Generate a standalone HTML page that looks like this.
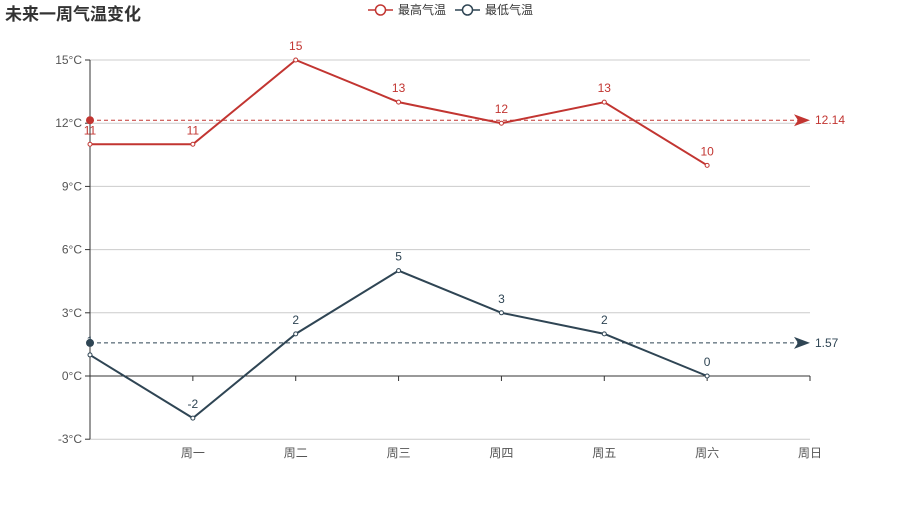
<!DOCTYPE html>
<html><head><meta charset="utf-8"><style>
body{margin:0;background:#fff;}
svg text{font-family:"Liberation Sans","Noto Sans CJK SC",sans-serif;}
</style></head><body>
<svg id="chart" width="900" height="500"></svg>
<script>
const categories=['周一','周二','周三','周四','周五','周六','周日'];
const maxTemps=[11,11,15,13,12,13,10];
const minTemps=[1,-2,2,5,3,2,0];
const yTicks=[-3,0,3,6,9,12,15];
const NS='http://www.w3.org/2000/svg';
const svg=document.getElementById('chart');
const X0=90,X1=810,Y15=60,Y0=376;
const step=(X1-X0)/7;
function xs(i){return X0+i*step;}
function ys(v){return Y0-(v)*(Y0-Y15)/15;}
function el(t,a,p){const e=document.createElementNS(NS,t);for(const k in a)e.setAttribute(k,a[k]);(p||svg).appendChild(e);return e;}
let t=el('text',{x:5,y:20,'font-size':17,'font-weight':'bold',fill:'#333'});t.textContent='未来一周气温变化';


yTicks.forEach(v=>{
 const y=ys(v);
 const g=el('line',{x1:X0,x2:X1,y1:y,y2:y,stroke:v===0?'#333':'#ccc','stroke-width':1});
 
 
 el('line',{x1:X0-5,x2:X0,y1:y,y2:y,stroke:'#333'});
 const l=el('text',{x:X0-8,y:y+4,'font-size':12,fill:'#555','text-anchor':'end'});l.textContent=v+'°C';
 
 
});
const ya=el('line',{x1:X0,x2:X0,y1:ys(15),y2:ys(-3),stroke:'#333'});


for(let i=0;i<=7;i++){el('line',{x1:xs(i),x2:xs(i),y1:Y0,y2:Y0+5,stroke:'#333'});}
categories.forEach((c,i)=>{
 const l=el('text',{x:xs(i+1),y:457,'font-size':12,fill:'#555','text-anchor':'middle'});l.textContent=c;
 
 
});
function series(data,color,name){
 const avg=data.reduce((a,b)=>a+b,0)/data.length;
 const ay=ys(avg);
 const ml=el('line',{x1:X0,x2:X1-12,y1:ay,y2:ay,stroke:color,'stroke-dasharray':'4,3','stroke-width':1});
 
 
 el('path',{d:`M${X1-16},${ay-6} L${X1},${ay} L${X1-16},${ay+6} L${X1-12},${ay} Z`,fill:color});
 const at=el('text',{x:X1+5,y:ay+4,'font-size':12,fill:color});at.textContent=avg.toFixed(2);
 
 
 const p=el('polyline',{points:data.map((v,i)=>xs(i)+','+ys(v)).join(' '),fill:'none',stroke:color,'stroke-width':2});
 
 
 data.forEach((v,i)=>{
  const c=el('circle',{cx:xs(i),cy:ys(v),r:2,fill:'#fff',stroke:color,'stroke-width':1});
  
  
  const l=el('text',{x:xs(i),y:ys(v)-10,'font-size':12,fill:color,'text-anchor':'middle'});l.textContent=v;
  
  
 });
 const s=el('circle',{cx:X0,cy:ay,r:4,fill:color});
 
 
}
series(maxTemps,'#c23531','max-temp');
series(minTemps,'#2f4554','min-temp');
function legend(x,color,label,name){
 const g=el('g',{});
 
 
 el('line',{x1:x,x2:x+25,y1:10,y2:10,stroke:color,'stroke-width':1.5},g);
 el('circle',{cx:x+12.5,cy:10,r:5,fill:'#fff',stroke:color,'stroke-width':1.5},g);
 const tt=el('text',{x:x+30,y:14,'font-size':12,fill:'#333'},g);tt.textContent=label;
}
legend(368,'#c23531','最高气温','legend-max-temp');
legend(455,'#2f4554','最低气温','legend-min-temp');
</script>
</body></html>
